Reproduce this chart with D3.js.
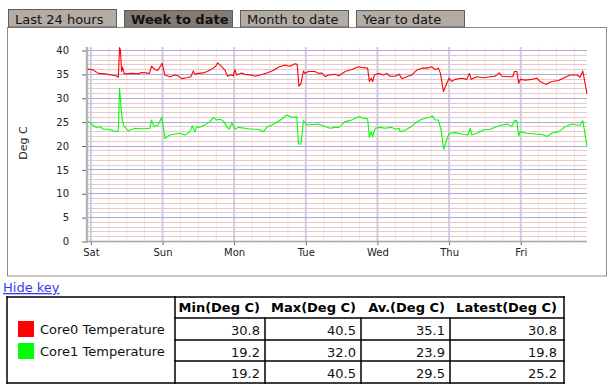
<!DOCTYPE html>
<html>
<head>
<meta charset="utf-8">
<script src="https://cdn.jsdelivr.net/npm/d3@7/dist/d3.min.js"></script>
<style>
body { margin: 0; background: #fff; }
svg { display: block; font-family: "DejaVu Sans", Verdana, sans-serif; }
</style>
</head>
<body>
<div id="chart"></div>
<script>
// tabs above the chart
const tabLabels = ["Last 24 hours", "Week to date", "Month to date", "Year to date"];
const activeTab = 1;

// axes
const dayLabels = ["Sat", "Sun", "Mon", "Tue", "Wed", "Thu", "Fri"];
const yTicks = [0, 5, 10, 15, 20, 25, 30, 35, 40];
const yLabel = "Deg C";

// series: [hours since Sat 00:00, temperature]
const seriesNames = ["Core0 Temperature", "Core1 Temperature"];
const seriesColors = ["#ff0000", "#00ff00"];

const core0 = [[-1.1,36.0],[0.8,35.8],[2.5,35.1],[4.7,35.0],[6.9,34.75],[8.6,34.55],[9.2,34.3],[9.6,40.5],[9.9,40.0],
    [10.3,35.5],[10.6,36.4],[11.1,35.1],[12.0,35.0],[13.6,35.1],[15.9,35.0],[17.0,35.3],[18.7,35.2],[19.6,35.1],[20.3,36.6],
    [21.5,35.9],[22.4,35.7],[23.9,37.2],[24.4,35.8],[24.8,34.75],[26.5,34.4],[28.2,34.75],[29.3,34.55],[30.4,34.0],[32.1,34.2],
    [33.5,34.4],[34.3,35.6],[34.9,34.9],[36.0,35.1],[37.7,35.2],[39.3,35.6],[41.0,36.2],[41.8,36.6],[42.5,37.3],[43.8,36.5],
    [44.9,35.8],[45.8,34.5],[46.9,34.8],[47.7,34.6],[48.3,35.9],[48.8,34.75],[50.5,35.2],[51.6,34.9],[53.3,34.8],[55.0,34.5],
    [56.7,34.75],[58.9,35.2],[61.1,35.7],[62.8,36.4],[65.0,36.85],[66.7,36.6],[68.4,37.1],[69.1,37.0],[69.7,32.4],[70.4,33.0],
    [71.2,35.6],[71.7,35.1],[72.9,35.5],[75.1,35.5],[76.2,35.1],[77.3,35.2],[78.5,34.4],[79.6,34.75],[81.8,34.9],[83.1,34.6],
    [85.2,35.5],[87.4,35.9],[89.6,36.5],[91.3,36.3],[92.7,36.2],[93.3,33.4],[93.9,34.1],[94.4,33.4],[95.0,34.75],[96.3,35.1],
    [98.0,34.75],[99.1,35.1],[100.2,34.5],[101.9,34.5],[103.3,34.9],[104.2,34.0],[105.8,34.4],[107.5,34.75],[109.2,35.8],
    [110.9,36.2],[112.5,36.2],[114.2,36.5],[115.3,35.9],[116.4,36.2],[117.1,35.1],[118.1,31.3],[119.2,33.0],[120.0,34.1],
    [120.9,33.4],[122.0,33.85],[124.3,34.1],[125.9,33.85],[126.8,35.1],[127.4,33.85],[129.3,34.4],[131.5,34.2],[133.8,34.4],
    [135.4,34.5],[136.8,35.2],[137.7,34.5],[139.9,34.4],[141.3,34.4],[141.9,35.5],[142.7,35.5],[143.3,33.0],[143.8,33.85],
    [145.5,33.7],[147.7,33.85],[149.4,34.1],[150.5,33.4],[152.4,32.8],[154.4,33.4],[156.7,33.6],[158.9,34.3],[160.6,34.75],
    [162.8,34.75],[163.9,34.3],[164.8,35.6],[166.2,30.8]];

const core1 = [[-1.1,25.1],[0.2,24.5],[1.9,23.7],[3.0,24.0],[4.1,23.4],[5.8,23.4],[7.5,23.1],[8.8,22.9],[9.2,23.2],[9.6,32.0],
    [10.1,28.1],[10.5,25.2],[11.2,24.0],[12.5,23.1],[14.8,23.6],[17.5,23.5],[19.8,23.6],[20.3,25.35],[21.2,23.95],[22.4,24.3],
    [23.1,25.0],[23.7,25.9],[24.4,23.4],[24.8,21.5],[26.5,22.2],[28.2,22.4],[29.8,22.55],[31.5,22.2],[33.2,22.9],[34.0,24.1],
    [34.9,22.9],[35.4,23.95],[36.5,23.8],[38.2,24.3],[39.9,25.0],[41.0,25.9],[42.1,25.35],[43.3,25.5],[44.4,25.1],[45.5,23.95],
    [46.4,23.4],[47.2,24.8],[48.3,23.4],[49.4,23.8],[51.6,23.6],[53.9,23.4],[56.1,23.4],[57.8,22.9],[58.9,23.8],[60.6,24.3],
    [62.2,24.8],[63.9,25.5],[65.6,26.4],[67.3,25.9],[69.0,26.0],[69.5,20.3],[70.4,20.3],[71.2,25.2],[72.3,24.3],[74.5,24.4],
    [76.2,24.5],[78.5,24.0],[80.1,23.6],[81.8,23.8],[83.1,23.8],[85.2,25.0],[87.4,25.35],[89.6,26.0],[91.3,25.7],[92.7,25.6],
    [93.3,21.7],[93.9,22.9],[94.4,21.8],[95.2,23.6],[96.9,23.8],[98.6,23.6],[100.8,23.8],[101.9,23.4],[103.3,23.6],[103.6,22.9],
    [105.3,23.25],[107.0,23.8],[108.6,24.65],[110.3,25.35],[112.0,25.7],[113.6,25.9],[114.4,26.2],[115.3,25.35],[116.4,25.35],
    [117.3,23.25],[118.2,19.2],[119.2,21.2],[120.0,22.5],[122.0,22.7],[124.3,22.4],[126.3,22.2],[127.1,23.6],[127.6,22.2],
    [129.3,22.55],[131.5,23.25],[133.8,23.4],[135.4,23.8],[137.7,24.3],[139.4,24.5],[141.0,23.95],[141.9,25.2],[142.7,25.2],
    [143.3,22.0],[143.8,22.9],[146.1,22.55],[148.8,22.4],[151.1,22.3],[152.8,21.9],[154.4,22.55],[156.7,22.9],[158.9,23.95],
    [161.1,24.5],[162.8,24.3],[163.9,24.3],[164.8,25.2],[166.2,19.8]];

// key table
const statHeaders = ["Min(Deg C)", "Max(Deg C)", "Av.(Deg C)", "Latest(Deg C)"];
const core0Stats = [30.8, 40.5, 35.1, 30.8];
const core1Stats = [19.2, 32.0, 23.9, 19.8];
const allStats = [19.2, 40.5, 29.5, 25.2];


function TempChart(parentElement) {
    let vis = this;
    vis.parentElement = parentElement;
    vis.initVis();
}

TempChart.prototype.initVis = function() {
    let vis = this;

    vis.width = 614;
    vis.height = 389;

    vis.svg = d3.select("#" + vis.parentElement).append("svg")
        .attr("width", vis.width)
        .attr("height", vis.height);

    // plot box inside the panel
    vis.plot = {left: 87, right: 587, top: 47, bottom: 241};

    vis.x = d3.scaleLinear()
        .domain([-1.3, 166.2])
        .range([vis.plot.left, vis.plot.right]);

    vis.y = d3.scaleLinear()
        .domain([0, 40])
        .range([241, 50]);

    vis.drawTabs();
    vis.drawGrid();
    vis.drawAxes();
    vis.updateVis();
    vis.drawKey();
}

TempChart.prototype.drawTabs = function() {
    let vis = this;

    // panel border
    vis.svg.append("rect")
        .attr("x", 7.5).attr("y", 27.5)
        .attr("width", 599).attr("height", 248.5)
        .attr("fill", "none")
        .attr("stroke", "#8c8c8c");

    let tabs = vis.svg.selectAll(".tab")
        .data(tabLabels)
        .join("g")
        .attr("class", "tab")
        .attr("transform", (d, i) => "translate(" + (8 + i * 116) + ",0)");

    tabs.append("rect")
        .attr("x", 0.5).attr("y", (d, i) => i == 0 ? 9.5 : 10.5)
        .attr("width", 108).attr("height", (d, i) => i == 0 ? 17.5 : 16.5)
        .attr("fill", (d, i) => i == activeTab ? "#827a73" : "#b3aca5")
        .attr("stroke", "#5e5e5e");

    tabs.append("text")
        .attr("x", 7).attr("y", 24)
        .attr("font-size", 13)
        .attr("font-weight", (d, i) => i == activeTab ? "bold" : null)
        .attr("fill", "#111")
        .text(d => d);
}

TempChart.prototype.drawGrid = function() {
    let vis = this;
    let g = vis.svg.append("g").attr("class", "grid");

    // 6-hour minor verticals
    let minorX = d3.range(0, 167, 6).filter(h => h % 24 != 0);
    g.selectAll(".vminor")
        .data(minorX)
        .join("line")
        .attr("x1", d => vis.x(d)).attr("x2", d => vis.x(d))
        .attr("y1", vis.plot.top).attr("y2", vis.plot.bottom)
        .attr("stroke", "#f3e2e2");

    // 1 degree minor horizontals
    let minorY = d3.range(1, 40).filter(v => v % 5 != 0);
    g.selectAll(".hminor")
        .data(minorY)
        .join("line")
        .attr("x1", vis.plot.left).attr("x2", vis.plot.right)
        .attr("y1", d => Math.round(vis.y(d)) + 0.5).attr("y2", d => Math.round(vis.y(d)) + 0.5)
        .attr("stroke", "#e8c9cb");

    // day lines
    g.selectAll(".vmajor")
        .data(dayLabels)
        .join("line")
        .attr("x1", (d, i) => vis.x(i * 24)).attr("x2", (d, i) => vis.x(i * 24))
        .attr("y1", vis.plot.top).attr("y2", vis.plot.bottom)
        .attr("stroke", "#d0c9e2")
        .attr("stroke-width", 2);

    g.selectAll(".hmajor")
        .data(yTicks.filter(v => v > 0))
        .join("line")
        .attr("x1", vis.plot.left).attr("x2", vis.plot.right)
        .attr("y1", d => Math.round(vis.y(d)) + 0.5).attr("y2", d => Math.round(vis.y(d)) + 0.5)
        .attr("stroke", "#adadd6");
}

TempChart.prototype.drawAxes = function() {
    let vis = this;

    let yAxis = d3.axisLeft(vis.y)
        .tickValues(yTicks)
        .tickSize(5)
        .tickPadding(13);

    let yg = vis.svg.append("g")
        .attr("transform", "translate(" + vis.plot.left + ",0.5)")
        .call(yAxis);

    let xAxis = d3.axisBottom(vis.x)
        .tickValues(dayLabels.map((d, i) => i * 24))
        .tickFormat((d, i) => dayLabels[i])
        .tickSize(4)
        .tickPadding(4);

    let xg = vis.svg.append("g")
        .attr("transform", "translate(0," + vis.plot.bottom + ")")
        .call(xAxis);

    [yg, xg].forEach(g => {
        g.select(".domain").remove();
        g.selectAll("line").attr("stroke", "#666");
        g.selectAll("text")
            .attr("font-family", "DejaVu Sans, Verdana, sans-serif")
            .attr("font-size", 10)
            .attr("fill", "#222");
    });

    // axis lines
    vis.svg.append("line")
        .attr("x1", vis.plot.left).attr("x2", vis.plot.left)
        .attr("y1", vis.plot.top).attr("y2", vis.plot.bottom + 2)
        .attr("stroke", "#b4b4b4")
        .attr("stroke-width", 2.5);

    vis.svg.append("line")
        .attr("x1", vis.plot.left).attr("x2", vis.plot.right)
        .attr("y1", vis.plot.bottom + 0.5).attr("y2", vis.plot.bottom + 0.5)
        .attr("stroke", "#a4a4a4")
        .attr("stroke-width", 1.5);

    vis.svg.append("text")
        .attr("transform", "translate(27,143) rotate(-90)")
        .attr("text-anchor", "middle")
        .attr("font-size", 11)
        .attr("fill", "#222")
        .text(yLabel);
}

TempChart.prototype.updateVis = function() {
    let vis = this;

    let line = d3.line()
        .x(d => vis.x(d[0]))
        .y(d => vis.y(d[1]));

    vis.svg.selectAll(".series")
        .data([core0, core1])
        .join("path")
        .attr("class", "series")
        .attr("d", line)
        .attr("fill", "none")
        .attr("stroke", (d, i) => seriesColors[i])
        .attr("stroke-width", 1.1)
        .attr("stroke-linejoin", "round");
}

TempChart.prototype.drawKey = function() {
    let vis = this;

    vis.svg.append("text")
        .attr("x", 3).attr("y", 292)
        .attr("font-size", 13)
        .attr("fill", "#3a3af0")
        .attr("text-decoration", "underline")
        .text("Hide key");

    let cols = [7, 175, 265, 361, 450, 564];
    let rows = [297, 318, 340, 361, 383];
    let k = vis.svg.append("g").attr("class", "key");
    let stroke = {stroke: "#000", w: 1.5};

    // header text
    k.selectAll(".hdr")
        .data(statHeaders)
        .join("text")
        .attr("x", (d, i) => cols[i + 2] - (i == 3 ? 7 : 5))
        .attr("y", 311.5)
        .attr("text-anchor", "end")
        .attr("font-size", 13)
        .attr("font-weight", "bold")
        .text(d => d);

    let statRows = [core0Stats, core1Stats, allStats];
    statRows.forEach((r, ri) => {
        k.selectAll(".v" + ri)
            .data(r)
            .join("text")
            .attr("x", (d, i) => cols[i + 2] - (i == 3 ? 7 : 5))
            .attr("y", rows[ri + 1] + 16.5)
            .attr("text-anchor", "end")
            .attr("font-size", 13)
            .attr("fill", "#111")
            .text(d => d.toFixed(1));
    });

    // legend entries
    k.selectAll(".swatch")
        .data(seriesNames)
        .join("rect")
        .attr("x", 18).attr("y", (d, i) => 321 + i * 22)
        .attr("width", 16).attr("height", 16)
        .attr("fill", (d, i) => seriesColors[i]);

    k.selectAll(".lname")
        .data(seriesNames)
        .join("text")
        .attr("x", 40).attr("y", (d, i) => 334 + i * 22)
        .attr("font-size", 13)
        .attr("fill", "#111")
        .text(d => d);

    // borders
    let lines = [];
    lines.push([cols[0], rows[0], cols[5], rows[0]]);
    lines.push([cols[0], rows[4], cols[5], rows[4]]);
    lines.push([cols[0], rows[0], cols[0], rows[4]]);
    lines.push([cols[5], rows[0], cols[5], rows[4]]);
    lines.push([cols[1], rows[0], cols[1], rows[4]]);
    [1, 2, 3].forEach(r => lines.push([cols[1], rows[r], cols[5], rows[r]]));
    [2, 3, 4].forEach(c => lines.push([cols[c], rows[1], cols[c], rows[4]]));

    k.selectAll(".border")
        .data(lines)
        .join("line")
        .attr("x1", d => d[0]).attr("y1", d => d[1])
        .attr("x2", d => d[2]).attr("y2", d => d[3])
        .attr("stroke", stroke.stroke)
        .attr("stroke-width", stroke.w)
        .attr("stroke-linecap", "square");
}

new TempChart("chart");
</script>
</body>
</html>
